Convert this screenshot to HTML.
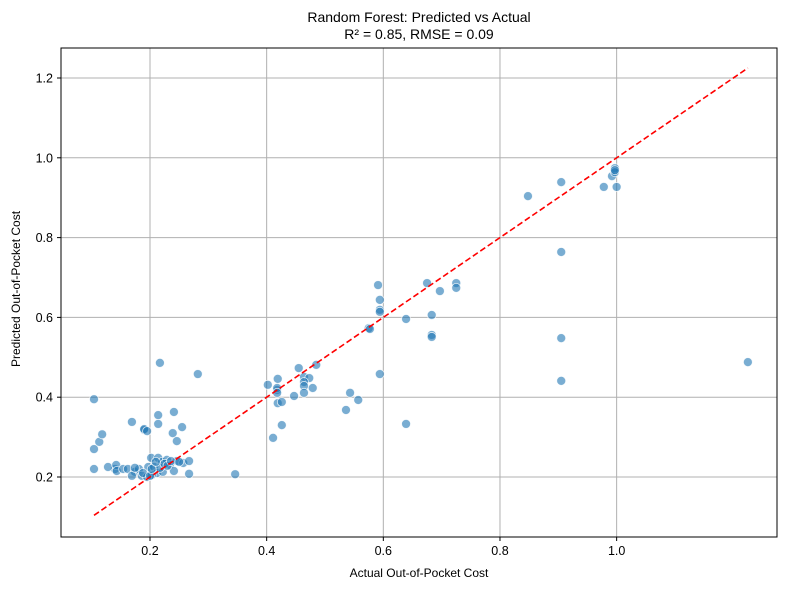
<!DOCTYPE html>
<html><head><meta charset="utf-8">
<style>
body{margin:0;background:#fff;font-family:"Liberation Sans",sans-serif;}
svg text{font-family:"Liberation Sans","DejaVu Sans",sans-serif;fill:#000;}
</style></head>
<body>
<svg id="chart" width="790" height="590" xmlns="http://www.w3.org/2000/svg">
<rect width="790" height="590" fill="#fff"/>
<text x="419" y="22" font-size="14" text-anchor="middle">Random Forest: Predicted vs Actual</text>
<text x="419" y="39" font-size="14" text-anchor="middle">R² = 0.85, RMSE = 0.09</text>
<text x="419" y="577" font-size="12" text-anchor="middle">Actual Out-of-Pocket Cost</text>
<text transform="translate(20,289) rotate(-90)" font-size="12" text-anchor="middle">Predicted Out-of-Pocket Cost</text>
<g id="grid"></g><g id="pts"></g><g id="fit"></g><g id="axes"></g>
</svg>
<script>
const actual=[0.104,0.113,0.118,0.140,0.104,0.104,0.128,0.142,0.143,0.154,0.162,0.174,0.181,0.169,0.186,0.202,0.197,0.207,0.214,0.221,0.229,0.234,0.246,0.257,0.267,0.241,0.212,0.222,0.203,0.195,0.267,0.346,0.217,0.188,0.200,0.203,0.174,0.190,0.217,0.282,0.214,0.241,0.214,0.169,0.190,0.195,0.255,0.239,0.246,0.402,0.419,0.418,0.447,0.419,0.426,0.411,0.418,0.418,0.426,0.455,0.485,0.464,0.473,0.464,0.464,0.464,0.479,0.543,0.557,0.536,0.639,0.591,0.594,0.594,0.594,0.675,0.697,0.725,0.725,0.639,0.683,0.683,0.683,0.575,0.577,0.594,0.848,0.905,0.905,0.905,0.905,0.978,0.992,0.997,0.997,1.0,0.997,1.225,0.210,0.225,0.230,0.236,0.250];
const predicted=[0.395,0.288,0.307,0.220,0.270,0.220,0.225,0.230,0.215,0.220,0.220,0.213,0.220,0.203,0.203,0.248,0.225,0.225,0.248,0.238,0.243,0.230,0.240,0.235,0.240,0.215,0.210,0.213,0.205,0.200,0.208,0.207,0.223,0.210,0.203,0.220,0.223,0.318,0.486,0.458,0.355,0.363,0.333,0.338,0.320,0.315,0.325,0.310,0.290,0.431,0.446,0.418,0.403,0.385,0.330,0.298,0.423,0.411,0.388,0.473,0.481,0.451,0.448,0.438,0.428,0.411,0.423,0.411,0.393,0.368,0.596,0.681,0.644,0.619,0.614,0.686,0.666,0.686,0.674,0.333,0.556,0.551,0.606,0.573,0.571,0.458,0.904,0.939,0.764,0.548,0.441,0.927,0.954,0.974,0.964,0.927,0.969,0.488,0.238,0.233,0.228,0.240,0.238];
const xTicks=[0.2,0.4,0.6,0.8,1.0];
const yTicks=[0.2,0.4,0.6,0.8,1.0,1.2];
const L=61,R=777,T=48,B=537;
const xs=v=>150+(v-0.2)*583.3;
const ys=v=>477-(v-0.2)*399;
const NS="http://www.w3.org/2000/svg";
function mk(tag,attrs,parent){const e=document.createElementNS(NS,tag);for(const k in attrs)e.setAttribute(k,attrs[k]);parent.appendChild(e);return e;}
const grid=document.getElementById('grid'),axes=document.getElementById('axes'),pts=document.getElementById('pts'),fit=document.getElementById('fit');
xTicks.forEach(t=>{
 const g=mk('line',{x1:xs(t),x2:xs(t),y1:T,y2:B,stroke:'#b0b0b0','stroke-width':1},grid);
 
 
 const tk=mk('line',{x1:xs(t),x2:xs(t),y1:B,y2:B+4,stroke:'#000'},axes);
 
 
 const tx=mk('text',{x:xs(t),y:B+18,'font-size':12.5,'text-anchor':'middle'},axes);
 tx.textContent=t.toFixed(1);
 
 
});
yTicks.forEach(t=>{
 const g=mk('line',{x1:L,x2:R,y1:ys(t),y2:ys(t),stroke:'#b0b0b0','stroke-width':1},grid);
 
 
 const tk=mk('line',{x1:L-4,x2:L,y1:ys(t),y2:ys(t),stroke:'#000'},axes);
 
 
 const tx=mk('text',{x:L-8,y:ys(t)+4.5,'font-size':12.5,'text-anchor':'end'},axes);
 tx.textContent=t.toFixed(1);
 
 
});
const frame=mk('rect',{x:L,y:T,width:R-L,height:B-T,fill:'none',stroke:'#000','stroke-width':1},axes);


actual.forEach((a,i)=>{
 const c=mk('circle',{cx:xs(a),cy:ys(predicted[i]),r:4.5,fill:'#1f77b4','fill-opacity':0.6,stroke:'#fff','stroke-width':0.8,'stroke-opacity':0.8},pts);
 
 
});
const mn=Math.min(...actual),mx=Math.max(...actual);
const ln=mk('line',{x1:xs(mn),y1:ys(mn),x2:xs(mx),y2:ys(mx),stroke:'#ff0000','stroke-width':1.6,'stroke-dasharray':'6,3'},fit);


</script>
</body></html>
